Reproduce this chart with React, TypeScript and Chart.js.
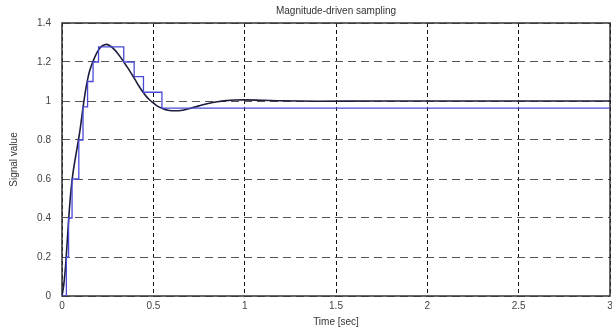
import React, { useEffect, useRef } from "react";
import { Chart, registerables } from "chart.js";

Chart.register(...registerables);

const titleText = "Magnitude-driven sampling";
const xTitle = "Time [sec]";
const yTitle = "Signal value";

const xTicks = [0, 0.5, 1, 1.5, 2, 2.5, 3];
const yTicks = [0, 0.2, 0.4, 0.6, 0.8, 1, 1.2, 1.4];

// continuous response
const tCurve = [0, 0.01, 0.02, 0.03, 0.04, 0.05, 0.06, 0.07, 0.08, 0.09, 0.1, 0.11, 0.12, 0.13, 0.14, 0.15, 0.16, 0.175, 0.19, 0.21, 0.238, 0.26, 0.28, 0.3, 0.32, 0.34, 0.36, 0.38, 0.4, 0.42, 0.44, 0.46, 0.48, 0.5, 0.52, 0.55, 0.58, 0.62, 0.66, 0.7, 0.75, 0.8, 0.85, 0.9, 0.95, 1.0, 1.1, 1.2, 1.4, 1.7, 2.0, 2.5, 3.0];
const yCurve = [0, 0.06, 0.16, 0.3, 0.44, 0.55, 0.63, 0.69, 0.745, 0.8, 0.86, 0.93, 1.0, 1.06, 1.11, 1.15, 1.18, 1.215, 1.245, 1.275, 1.29, 1.285, 1.27, 1.25, 1.225, 1.197, 1.17, 1.14, 1.11, 1.078, 1.05, 1.025, 1.005, 0.99, 0.975, 0.962, 0.953, 0.95, 0.953, 0.962, 0.975, 0.987, 0.996, 1.002, 1.005, 1.006, 1.004, 1.001, 0.999, 1.0, 1.0, 1.0, 1.0];

// magnitude-driven samples (zero-order hold)
const tSamples = [0, 0.024, 0.036, 0.055, 0.092, 0.115, 0.14, 0.17, 0.2, 0.338, 0.395, 0.446, 0.547, 3.0];
const ySamples = [0, 0.2, 0.4, 0.6, 0.8, 0.97, 1.1, 1.2, 1.278, 1.2, 1.125, 1.045, 0.963, 0.963];

const FONT = "'Liberation Sans', Arial, sans-serif";

export default function App() {
  const ref = useRef<HTMLCanvasElement | null>(null);

  useEffect(() => {
    document.body.style.margin = "0";
    const canvas = ref.current;
    if (!canvas) return;

    const textPlugin = {
      id: "texts",
      beforeDatasetsDraw(chart: any) {
        const { ctx, chartArea } = chart;
        ctx.save();
        ctx.strokeStyle = "#333";
        ctx.lineWidth = 1.5;
        ctx.setLineDash([]);
        ctx.strokeRect(chartArea.left, chartArea.top, chartArea.right - chartArea.left, chartArea.bottom - chartArea.top);
        ctx.restore();
      },
      afterDraw(chart: any) {
        const { ctx, chartArea } = chart;
        const cx = (chartArea.left + chartArea.right) / 2;
        const cy = (chartArea.top + chartArea.bottom) / 2;
        ctx.save();
        ctx.fillStyle = "#333";
        ctx.textAlign = "center";
        ctx.textBaseline = "middle";
        ctx.font = `10px ${FONT}`;
        ctx.fillText(titleText, cx, 11);
        ctx.fillText(xTitle, cx, 322);
        ctx.translate(14, cy);
        ctx.rotate(-Math.PI / 2);
        ctx.fillText(yTitle, 0, 0);
        ctx.restore();
      },
    };

    const chart = new Chart(canvas, {
      type: "line",
      data: {
        datasets: [
          {
            label: "samples",
            data: tSamples.map((t, i) => ({ x: t, y: ySamples[i] })),
            borderColor: "#4a4ad6",
            borderWidth: 1.3,
            pointRadius: 0,
            stepped: true,
            fill: false,
          },
          {
            label: "signal",
            data: tCurve.map((t, i) => ({ x: t, y: yCurve[i] })),
            borderColor: "#1c1c3c",
            borderWidth: 1.6,
            pointRadius: 0,
            tension: 0.3,
            fill: false,
          },
        ],
      },
      options: {
        animation: false,
        responsive: false,
        layout: { padding: { top: 23, right: 2, left: 0, bottom: 0 } },
        plugins: {
          legend: { display: false },
          title: { display: false },
          tooltip: { enabled: false },
        },
        scales: {
          x: {
            type: "linear",
            min: 0,
            max: 3,
            afterBuildTicks(scale: any) {
              scale.ticks = xTicks.map((v) => ({ value: v }));
            },
            afterFit(scale: any) {
              scale.height = 36;
              scale.paddingLeft = 0;
              scale.paddingRight = 0;
            },
            ticks: {
              color: "#444",
              font: { family: FONT, size: 10 },
              padding: 4,
              maxRotation: 0,
              autoSkip: false,
              callback: (v: any) => String(v),
            },
            grid: { color: "#111", lineWidth: 1, drawTicks: false },
            border: { display: false, dash: [4, 3] },
          },
          y: {
            type: "linear",
            min: 0,
            max: 1.4,
            afterBuildTicks(scale: any) {
              scale.ticks = yTicks.map((v) => ({ value: v }));
            },
            afterFit(scale: any) {
              scale.width = 62;
              scale.paddingTop = 0;
              scale.paddingBottom = 0;
            },
            ticks: {
              color: "#444",
              font: { family: FONT, size: 10 },
              padding: 11,
              autoSkip: false,
              callback: (v: any) => String(Math.round(v * 10) / 10),
            },
            grid: { color: "#555", lineWidth: 1, drawTicks: false },
            border: { display: false, dash: [8, 5] },
          },
        },
      },
      plugins: [textPlugin],
    });

    return () => chart.destroy();
  }, []);

  return <canvas ref={ref} width={612} height={332} style={{ display: "block" }} />;
}
